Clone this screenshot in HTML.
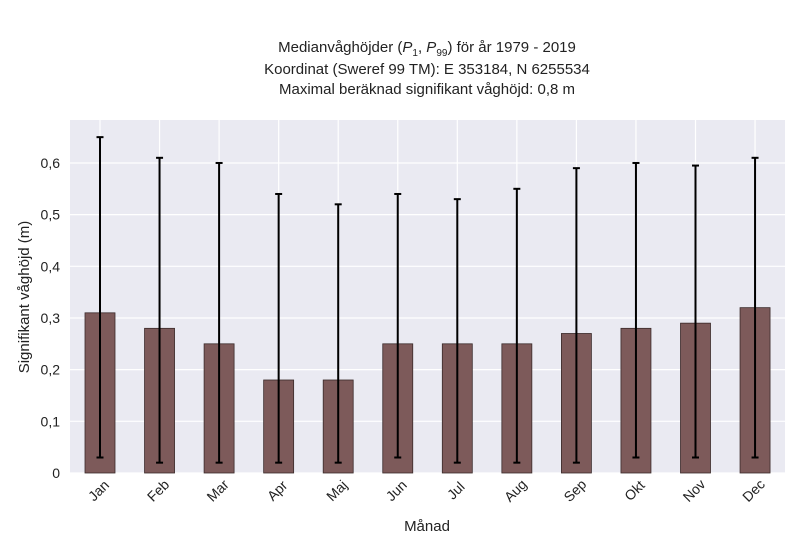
<!DOCTYPE html>
<html><head><meta charset="utf-8"><style>
body{margin:0;background:#fff;font-family:"Liberation Sans",sans-serif;}
svg text{font-family:"Liberation Sans",sans-serif;fill:#222;}
</style></head><body>
<svg id="chart" width="800" height="550" xmlns="http://www.w3.org/2000/svg">
<g>
<text x="427" y="52" font-size="15" text-anchor="middle">Medianvåghöjder (<tspan font-style="italic">P</tspan><tspan font-size="10" dy="4">1</tspan><tspan dy="-4">, </tspan><tspan font-style="italic">P</tspan><tspan font-size="10" dy="4">99</tspan><tspan dy="-4">) för år 1979 - 2019</tspan></text>
<text x="427" y="74" font-size="15" text-anchor="middle">Koordinat (Sweref 99 TM): E 353184, N 6255534</text>
<text x="427" y="94" font-size="15" text-anchor="middle">Maximal beräknad signifikant våghöjd: 0,8 m</text>
</g>
<rect x="70" y="120" width="715" height="353" fill="#eaeaf2"/>
<g id="grid"></g>
<g id="bars"></g>
<g id="errs"></g>
<g id="xt"></g>
<g id="yt"></g>
<text x="427" y="531" font-size="15" text-anchor="middle">Månad</text>
<text transform="translate(29,297) rotate(-90)" font-size="15" text-anchor="middle">Signifikant våghöjd (m)</text>
</svg>
<script>
const months=["Jan","Feb","Mar","Apr","Maj","Jun","Jul","Aug","Sep","Okt","Nov","Dec"];
const medians=[0.31,0.28,0.25,0.18,0.18,0.25,0.25,0.25,0.27,0.28,0.29,0.32];
const upper=[0.65,0.61,0.60,0.54,0.52,0.54,0.53,0.55,0.59,0.60,0.595,0.61];
const lower=[0.03,0.02,0.02,0.02,0.02,0.03,0.02,0.02,0.02,0.03,0.03,0.03];
const yTicks=[0,0.1,0.2,0.3,0.4,0.5,0.6];
const yTickLabels=["0","0,1","0,2","0,3","0,4","0,5","0,6"];
const NS="http://www.w3.org/2000/svg";
const y=v=>473-v*516.7;
const x=i=>100+i*59.55;
function mk(t,a,p){const e=document.createElementNS(NS,t);for(const k in a)e.setAttribute(k,a[k]);document.getElementById(p).appendChild(e);return e;}
yTicks.forEach((v,i)=>{
 const g=mk("line",{x1:70,x2:785,y1:y(v),y2:y(v),stroke:"#fff","stroke-width":1.2},"grid");
 
 
 const t=mk("text",{x:60,y:y(v)+5,"font-size":14,"text-anchor":"end"},"yt");t.textContent=yTickLabels[i];
 
 
});
months.forEach((m,i)=>{
 const g=mk("line",{x1:x(i),x2:x(i),y1:120,y2:473,stroke:"#fff","stroke-width":1.2},"grid");
 
 
 const b=mk("rect",{x:x(i)-15,y:y(medians[i]),width:30,height:473-y(medians[i]),fill:"#7d5a5a",stroke:"#3a2a2a","stroke-width":0.8},"bars");
 
 
 const e=mk("g",{},"errs");
 
 
 [[x(i),y(lower[i]),x(i),y(upper[i])],[x(i)-3.5,y(lower[i]),x(i)+3.5,y(lower[i])],[x(i)-3.5,y(upper[i]),x(i)+3.5,y(upper[i])]].forEach(c=>{
  const l=document.createElementNS(NS,"line");l.setAttribute("x1",c[0]);l.setAttribute("y1",c[1]);l.setAttribute("x2",c[2]);l.setAttribute("y2",c[3]);l.setAttribute("stroke","#000");l.setAttribute("stroke-width",2);e.appendChild(l);});
 const t=mk("text",{x:0,y:0,"font-size":14,"text-anchor":"middle",transform:`translate(${x(i)+2},${494}) rotate(-45)`},"xt");t.textContent=m;
 
 
});
</script>
</body></html>
